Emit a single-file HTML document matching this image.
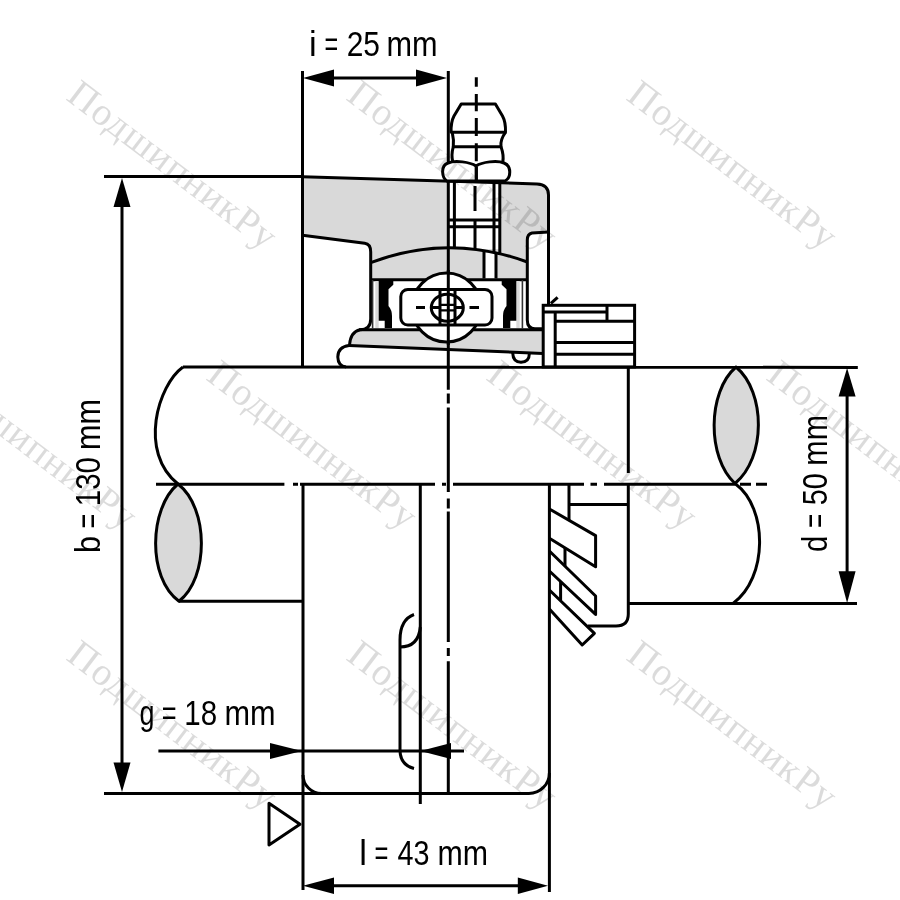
<!DOCTYPE html>
<html><head><meta charset="utf-8">
<style>
html,body{margin:0;padding:0;background:#fff;width:900px;height:900px;overflow:hidden}
svg{display:block;will-change:transform}
</style></head><body>
<svg width="900" height="900" viewBox="0 0 900 900">
<rect width="900" height="900" fill="#fff"/>

<!-- gray fills -->
<g fill="#d9d9d9" stroke="none">
  <!-- upper housing main -->
  <path d="M302,176.7 L537,183.9 Q548.5,184.3 548.5,195 L548.5,232 L532,233 Q527.3,234 527.3,240 L527.3,262 Q448,233 370.7,262.7 L370.7,250 Q370.7,243.3 364.7,243.3 L302,235.3 Z"/>
  <!-- band under arc -->
  <path d="M370.7,262.7 Q448,233 527.3,262 L527.3,279.8 L370.7,279.8 Z"/>
  <!-- bottom gray strip -->
  <path d="M359,329.8 L543,329.8 L543,353.4 L349,345.6 Q351,333 359,329.8 Z"/>
  <!-- lenses -->
  <path d="M178,484 C149,508 147,578 179,601.2 C209,578 209,508 178,484 Z"/>
  <path d="M736,367 C707,392 707,458 735,483.5 C766,458 766,392 736,367 Z"/>
</g>
<!-- white stem bore & white band gap -->
<g fill="#fff" stroke="none">
  <rect x="448" y="183" width="52" height="66"/>
  <rect x="484" y="250" width="12" height="29"/>
</g>

<g fill="none" stroke="#000" stroke-width="3" stroke-linecap="butt" stroke-linejoin="round">
  <!-- i dimension -->
  <line x1="302.5" y1="71" x2="302.5" y2="367"/>
  <path d="M448.3,71 V389.7 M448.3,393.5 V403.5 M448.3,407.4 V492"/>
  <line x1="320" y1="78" x2="430" y2="78"/>
  <!-- b dimension -->
  <line x1="104" y1="176.6" x2="302.5" y2="176.6"/>
  <line x1="122" y1="195" x2="122" y2="775"/>
  <line x1="104" y1="793.4" x2="529" y2="793.4"/>
  <!-- d dimension -->
  <line x1="847.1" y1="385" x2="847.1" y2="585"/>
  <!-- l dimension -->
  <line x1="320" y1="885.7" x2="532" y2="885.7"/>
  <!-- g dimension -->
  <line x1="158.4" y1="751" x2="464" y2="751"/>

  <!-- shaft -->
  <line x1="183" y1="367" x2="857.8" y2="367.4"/>
  <path d="M183,367 C158,385 138,452 178,484"/>
  <path d="M178,484 C149,508 147,578 179,601.2 C209,578 209,508 178,484 Z"/>
  <line x1="179" y1="601.2" x2="302.5" y2="601.2"/>
  <line x1="628" y1="603.5" x2="857" y2="603.5"/>
  <path d="M735.6,484 C768,508 768,578 733,603.5"/>
  <path d="M736,367 C707,392 707,458 735,483.5 C766,458 766,392 736,367 Z"/>
  <!-- centerline -->
  <path d="M156,484.3 H284.4 M293,484.3 H298 M300,484.3 H435 M442,484.3 H446 M453,484.3 H584 M590.5,484.3 H597 M604,484.3 H735.6 M740,484.3 H751 M756,484.3 H767"/>

  <!-- lower housing -->
  <path d="M303,484 V890"/>
  <path d="M303,774.9 A18.5,18.5 0 0 0 321.5,793.4"/>
  <path d="M549.4,484 V892"/>
  <path d="M528.9,793.4 A20.5,20.5 0 0 0 549.4,772.9"/>
  <line x1="420.3" y1="484" x2="420.3" y2="804"/>
  <path d="M448.3,498.5 V508.5 M448.3,511.6 V642 M448.3,648 V656 M448.3,661.3 V793"/>
  <path d="M414,614.5 C404.5,618 400,626 400,640 V750 C400,760 404.5,766 414,768.5"/>
  <path d="M400,647 Q418.5,647 420.3,627"/>
  <!-- triangle -->
  <path d="M269,803.3 L300,824.3 L269,845 Z"/>

  <!-- lower collar -->
  <path d="M569,484 V520.3 M569,504.4 H628.3"/>
  <path d="M628.3,367 V473"/>
  <path d="M628.3,484 V614 Q628.3,626 616,626 H587.8"/>
  <path d="M549.4,509 L595.6,535.6 V566.7 L549.4,538.3"/>
  <path d="M565,548 V566"/>
  <path d="M549.4,551 L595.6,596 V614.4 L549.4,571"/>
  <path d="M560.6,581.4 V600"/>
  <path d="M549.4,590 L594.4,633.3 L582.2,645 L549.4,608.9"/>

  <!-- upper housing outline -->
  <path d="M302.5,176.7 L537,183.9 Q548.5,184.3 548.5,195 V305"/>
  <path d="M548.5,232 L532,233 Q527.3,234 527.3,240 V320 Q527.3,328.8 535,328.8 H543"/>
  <path d="M302.5,235.3 L364.7,243.3 Q370.7,244 370.7,252 V319 Q370.7,329.8 360,329.8 Q350.5,332 349.5,345"/>
  <path d="M370.7,262.7 Q448,233 527.3,262"/>
  <line x1="370.7" y1="279.8" x2="527.3" y2="279.8"/>
  <line x1="359" y1="329.8" x2="543" y2="329.8"/>
  <path d="M349,345.6 L543,353.4"/>
  <path d="M349,345.6 Q338,347 337.8,357 Q338,366 346,367"/>
  <path d="M512.7,353 Q513,362.2 521,362.2 Q529.3,362 529.3,354"/>
  <!-- stem -->
  <path d="M454.4,181 V249 M494,181 V252 M499.8,181 V253"/>
  <path d="M448,220 H500 M448,226.7 H500"/>
  <path d="M484,250 V278.5 M496,252 V278.5"/>
  <!-- nipple -->
  <path d="M461.2,104 H495.4 L502.5,116 Q505.8,122 505.5,132.2 H451.1 Q450.8,122 454,116 Z"/>
  <path d="M452.2,132.2 Q454,140 453.3,146.7 H501 Q500,140 505.6,132.2"/>
  <path d="M453.3,146.7 Q451,155 452.8,162 M501,146.7 Q504,155 502.8,162"/>
  <path fill="#fff" d="M476,166 C470,162 455,160 448,163 C440,166 442,178 447,181 L505,181 C511,178 512,166 504,163 C497,160 482,162 476,166 Z"/>
  <path d="M476.3,166.7 V180"/>
  <path d="M476.3,77.3 V86.7 M476.3,94 V111.3 M476.3,118 V136 M476.3,143.3 V161.3 M476.3,166.7 V180" /><path d="M475,186 V211 M475,219.4 V249"/>

  <!-- bearing interior -->
  <circle cx="446.5" cy="307.5" r="34.5" fill="#fff"/>
  <rect x="400.8" y="289.5" width="91.2" height="35.5" rx="7" fill="#fff"/>
  <ellipse cx="447.3" cy="307.7" rx="16" ry="13.5"/>
  <path d="M440,289.5 V325 M455,289.5 V325 M431,307.5 H440 M455,307.5 H464"/><path d="M440,304.8 H455 M440,310.4 H455" stroke-width="2.2"/>
  <path d="M416,307.5 H425 M469.5,307.5 H479"/>
  
  <line x1="448.3" y1="270" x2="448.3" y2="345"/>
  
</g>
<!-- seals -->
<g id="sealL">
  <rect x="375.3" y="281" width="3.4" height="47" fill="#d9d9d9"/>
  <line x1="372.6" y1="280" x2="372.6" y2="329" stroke="#333" stroke-width="1.6"/>
  <path fill="#000" d="M378.7,279.5 H393.3 V284.7 L388.5,289.3 V306 Q392,310 392,316 V328 H384.7 V320.7 H378.7 Z"/>
</g>
<g transform="matrix(-1,0,0,1,895,0)">
  <rect x="375.3" y="281" width="3.4" height="47" fill="#d9d9d9"/>
  <line x1="372.6" y1="280" x2="372.6" y2="329" stroke="#333" stroke-width="1.6"/>
  <path fill="#000" d="M378.7,279.5 H393.3 V284.7 L388.5,289.3 V306 Q392,310 392,316 V328 H384.7 V320.7 H378.7 Z"/>
</g>

<!-- upper collar -->
<g fill="none" stroke="#000" stroke-width="3">
  <rect x="543.2" y="305.3" width="91.4" height="61.6"/>
  <path d="M543.2,312 H607 M607,305.3 V321.2 M555.2,312 V367 M555.2,321.2 H634.6 M555.2,342.6 H634.6 M555.2,354.2 H634.6"/>
  <path d="M550.9,303.4 L557.6,297.3"/>
</g>

<!-- arrowheads -->
<g fill="#000" stroke="none">
  <path d="M303,78 L334,69.5 L334,86.5 Z"/>
  <path d="M447,78 L416,69.5 L416,86.5 Z"/>
  <path d="M122,178 L113.5,207 L130.5,207 Z"/>
  <path d="M122,792 L113.5,762.5 L130.5,762.5 Z"/>
  <path d="M847.1,368 L838.6,396.6 L855.6,396.6 Z"/>
  <path d="M847.1,603 L838.6,571.2 L855.6,571.2 Z"/>
  <path d="M303,885.7 L334,877.5 L334,894 Z"/>
  <path d="M548,885.7 L517.8,877.5 L517.8,894 Z"/>
  <path d="M302,751 L270,743 L270,759 Z"/>
  <path d="M420.3,751 L451,743 L451,759 Z"/>
</g>

<!-- labels -->
<g fill="#000" font-family="Liberation Sans, sans-serif" font-size="34.5">
<text x="309.10" y="55.8" textLength="7.67" lengthAdjust="spacingAndGlyphs">i</text>
<text x="324.45" y="55.8" textLength="13.64" lengthAdjust="spacingAndGlyphs">=</text>
<text x="346.66" y="55.8" textLength="33.33" lengthAdjust="spacingAndGlyphs">25</text>
<text x="386.42" y="55.8" textLength="51.09" lengthAdjust="spacingAndGlyphs">mm</text>
<text x="139.42" y="724.80" textLength="14.99" lengthAdjust="spacingAndGlyphs">g</text>
<text x="161.83" y="724.80" textLength="14.82" lengthAdjust="spacingAndGlyphs">=</text>
<text x="184.33" y="724.80" textLength="32.84" lengthAdjust="spacingAndGlyphs">18</text>
<text x="224.42" y="724.80" textLength="51.09" lengthAdjust="spacingAndGlyphs">mm</text>
<text x="359.30" y="865.30" textLength="7.67" lengthAdjust="spacingAndGlyphs">l</text>
<text x="374.42" y="865.30" textLength="13.87" lengthAdjust="spacingAndGlyphs">=</text>
<text x="397.47" y="865.30" textLength="31.98" lengthAdjust="spacingAndGlyphs">43</text>
<text x="437.44" y="865.30" textLength="50.54" lengthAdjust="spacingAndGlyphs">mm</text>
<text transform="translate(99.80,560.00) rotate(-90)" x="7.12" textLength="17.03" lengthAdjust="spacingAndGlyphs">b</text>
<text transform="translate(99.80,560.00) rotate(-90)" x="31.44" textLength="14.70" lengthAdjust="spacingAndGlyphs">=</text>
<text transform="translate(99.80,560.00) rotate(-90)" x="53.84" textLength="49.09" lengthAdjust="spacingAndGlyphs">130</text>
<text transform="translate(99.80,560.00) rotate(-90)" x="110.02" textLength="51.09" lengthAdjust="spacingAndGlyphs">mm</text>
<text transform="translate(827.40,560.00) rotate(-90)" x="8.05" textLength="16.31" lengthAdjust="spacingAndGlyphs">d</text>
<text transform="translate(827.40,560.00) rotate(-90)" x="31.89" textLength="14.23" lengthAdjust="spacingAndGlyphs">=</text>
<text transform="translate(827.40,560.00) rotate(-90)" x="54.73" textLength="32.13" lengthAdjust="spacingAndGlyphs">50</text>
<text transform="translate(827.40,560.00) rotate(-90)" x="94.34" textLength="50.65" lengthAdjust="spacingAndGlyphs">mm</text>

</g>

<!-- watermarks -->
<g fill="#000" fill-opacity="0.14" font-family="Liberation Serif, serif" font-size="39">
  <text transform="translate(65,99) rotate(37.3)" textLength="251" lengthAdjust="spacing">ПодшипникРу</text>
  <text transform="translate(345,99) rotate(37.3)" textLength="251" lengthAdjust="spacing">ПодшипникРу</text>
  <text transform="translate(625,99) rotate(37.3)" textLength="251" lengthAdjust="spacing">ПодшипникРу</text>
  <text transform="translate(-75,379) rotate(37.3)" textLength="251" lengthAdjust="spacing">ПодшипникРу</text>
  <text transform="translate(205,379) rotate(37.3)" textLength="251" lengthAdjust="spacing">ПодшипникРу</text>
  <text transform="translate(485,379) rotate(37.3)" textLength="251" lengthAdjust="spacing">ПодшипникРу</text>
  <text transform="translate(765,379) rotate(37.3)" textLength="251" lengthAdjust="spacing">ПодшипникРу</text>
  <text transform="translate(65,659) rotate(37.3)" textLength="251" lengthAdjust="spacing">ПодшипникРу</text>
  <text transform="translate(345,659) rotate(37.3)" textLength="251" lengthAdjust="spacing">ПодшипникРу</text>
  <text transform="translate(625,659) rotate(37.3)" textLength="251" lengthAdjust="spacing">ПодшипникРу</text>
</g>
</svg>
</body></html>
